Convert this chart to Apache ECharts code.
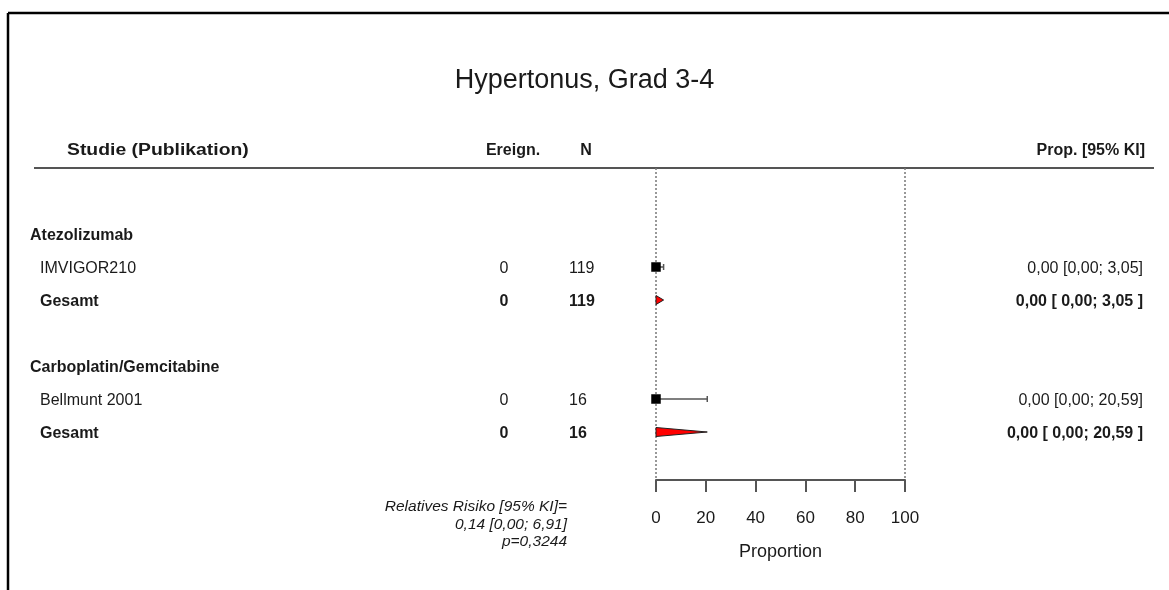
<!DOCTYPE html>
<html>
<head>
<meta charset="utf-8">
<script src="https://cdn.jsdelivr.net/npm/echarts@6/dist/echarts.min.js"></script>
<style>
  html, body { margin: 0; padding: 0; background: #fff; }
  #chart { width: 1169px; height: 590px; }
</style>
</head>
<body>
<div id="chart"></div>
<script>
// Subgroups and their single studies
const groups = ['Atezolizumab', 'Carboplatin/Gemcitabine'];
const studies = ['IMVIGOR210', 'Bellmunt 2001'];
const studyEvents = [0, 0];
const studyN = [119, 16];
const studyEst = [0.00, 0.00];
const studyLower = [0.00, 0.00];
const studyUpper = [3.05, 20.59];
const studyCI = ['0,00 [0,00; 3,05]', '0,00 [0,00; 20,59]'];

// Pooled estimate per subgroup
const pooledLabel = 'Gesamt';
const pooledEvents = [0, 0];
const pooledN = [119, 16];
const pooledEst = [0.00, 0.00];
const pooledLower = [0.00, 0.00];
const pooledUpper = [3.05, 20.59];
const pooledCI = ['0,00 [ 0,00; 3,05 ]', '0,00 [ 0,00; 20,59 ]'];

// Axis ticks
const xTicks = [0, 20, 40, 60, 80, 100];

// Test for subgroup differences
const testLines = ['Relatives Risiko [95% KI]=', '0,14 [0,00; 6,91]', 'p=0,3244'];

const FONT = "'Liberation Sans', Arial, Helvetica, sans-serif";
const TXT = '#1a1a1a';
const ROW_PX = 33;
const GRID_TOP = 168, GRID_H = 312;
const TEXT_DY = 2; // glyph centring offset

// row index (in row units from the header rule) of each line of the table
const groupRow = g => 2 + 4 * g;

const tableRows = [];
groups.forEach((g, i) => {
  const r = groupRow(i);
  tableRows.push({ row: r, cells: [{ text: g, x: 30, align: 'left', bold: true }] });
  tableRows.push({ row: r + 1, cells: [
    { text: studies[i], x: 40, align: 'left' },
    { text: String(studyEvents[i]), x: 504, align: 'center' },
    { text: String(studyN[i]), x: 569, align: 'left' },
    { text: studyCI[i], x: 1143, align: 'right' }
  ]});
  tableRows.push({ row: r + 2, cells: [
    { text: pooledLabel, x: 40, align: 'left', bold: true },
    { text: String(pooledEvents[i]), x: 504, align: 'center', bold: true },
    { text: String(pooledN[i]), x: 569, align: 'left', bold: true },
    { text: pooledCI[i], x: 1143, align: 'right', bold: true }
  ]});
});

const studyData = studies.map((s, i) => [studyEst[i], groupRow(i) + 1, studyLower[i], studyUpper[i]]);
const pooledData = groups.map((g, i) => [pooledEst[i], groupRow(i) + 2, pooledLower[i], pooledUpper[i]]);

const chart = echarts.init(document.getElementById('chart'), null, { renderer: 'canvas' });

chart.setOption({
  backgroundColor: '#ffffff',
  animation: false,
  title: {
    text: 'Hypertonus, Grad 3-4',
    left: 'center',
    top: 62,
    textStyle: { fontFamily: FONT, fontSize: 27, fontWeight: 'normal', color: TXT }
  },
  grid: {
    left: 656, top: GRID_TOP, width: 249, height: GRID_H,
    containLabel: false, outerBoundsMode: 'none'
  },
  xAxis: {
    type: 'value', min: 0, max: 100, interval: 20,
    position: 'bottom',
    name: 'Proportion', nameLocation: 'middle', nameGap: 63,
    nameTextStyle: { fontFamily: FONT, fontSize: 18, color: TXT },
    axisLine: { show: true, onZero: false, lineStyle: { color: '#555', width: 2 } },
    axisTick: { show: true, length: 12, inside: false, lineStyle: { color: '#555', width: 2 } },
    axisLabel: {
      fontFamily: FONT, fontSize: 17, color: TXT, margin: 30,
      formatter: v => (xTicks.indexOf(v) >= 0 ? String(v) : '')
    },
    splitLine: { show: false }
  },
  yAxis: {
    type: 'value', min: 0, max: GRID_H / ROW_PX, inverse: true, show: false
  },
  graphic: [
    // frame
    { type: 'line', shape: { x1: 8, y1: 13, x2: 1169, y2: 13 }, style: { stroke: '#000', lineWidth: 2.5 } },
    { type: 'line', shape: { x1: 8, y1: 13, x2: 8, y2: 590 }, style: { stroke: '#000', lineWidth: 2.5 } },
    // header rule
    { type: 'line', shape: { x1: 34, y1: 168, x2: 1154, y2: 168 }, style: { stroke: '#555', lineWidth: 2 } },
    // column headers
    { type: 'text', x: 67, y: 151, scaleX: 1.21, style: { text: 'Studie (Publikation)', font: `bold 16px ${FONT}`, fill: TXT, align: 'left', verticalAlign: 'middle' } },
    { type: 'text', x: 513, y: 151, style: { text: 'Ereign.', font: `bold 16px ${FONT}`, fill: TXT, align: 'center', verticalAlign: 'middle' } },
    { type: 'text', x: 586, y: 151, style: { text: 'N', font: `bold 16px ${FONT}`, fill: TXT, align: 'center', verticalAlign: 'middle' } },
    { type: 'text', x: 1145, y: 151, style: { text: 'Prop. [95% KI]', font: `bold 16px ${FONT}`, fill: TXT, align: 'right', verticalAlign: 'middle' } },
    // subgroup difference test
    ...testLines.map((t, i) => ({
      type: 'text', x: 567, y: 507 + i * 17.5,
      style: { text: t, font: `italic 15.5px ${FONT}`, fill: TXT, align: 'right', verticalAlign: 'middle' }
    }))
  ],
  series: [
    {
      // table text and the 0 / 100 reference lines
      type: 'custom',
      clip: false,
      silent: true,
      z: 2,
      data: tableRows.map(r => [0, r.row]),
      renderItem: (params, api) => {
        const y = api.coord([0, api.value(1)])[1] + TEXT_DY;
        const row = tableRows[params.dataIndex];
        return {
          type: 'group',
          children: row.cells.map(c => ({
            type: 'text', x: c.x, y: y,
            style: {
              text: c.text,
              font: `${c.bold ? 'bold ' : ''}16px ${FONT}`,
              fill: TXT, align: c.align, verticalAlign: 'middle'
            }
          }))
        };
      },
      markLine: {
        silent: true,
        symbol: 'none',
        label: { show: false },
        lineStyle: { color: '#777', type: [2, 2], width: 1.5 },
        data: [{ xAxis: 0 }, { xAxis: 100 }]
      }
    },
    {
      // single studies: CI whisker + square
      type: 'custom',
      clip: false,
      silent: true,
      z: 6,
      data: studyData,
      renderItem: (params, api) => {
        const row = api.value(1);
        const c = api.coord([api.value(0), row]);
        const lo = api.coord([api.value(2), row]);
        const hi = api.coord([api.value(3), row]);
        const s = 9, cap = 3;
        return {
          type: 'group',
          children: [
            { type: 'line', shape: { x1: lo[0], y1: lo[1], x2: hi[0], y2: hi[1] }, style: { stroke: '#555', lineWidth: 1.5 } },
            { type: 'line', shape: { x1: hi[0], y1: hi[1] - cap, x2: hi[0], y2: hi[1] + cap }, style: { stroke: '#555', lineWidth: 1.5 } },
            { type: 'rect', z2: 10, shape: { x: c[0] - s / 2, y: c[1] - s / 2, width: s, height: s }, style: { fill: '#000', stroke: '#000', lineWidth: 0.5 } }
          ]
        };
      }
    },
    {
      // pooled estimates: diamond
      type: 'custom',
      clip: false,
      silent: true,
      z: 6,
      data: pooledData,
      renderItem: (params, api) => {
        const row = api.value(1);
        const c = api.coord([api.value(0), row]);
        const lo = api.coord([api.value(2), row]);
        const hi = api.coord([api.value(3), row]);
        const h = 4.5;
        return {
          type: 'polygon',
          shape: { points: [[lo[0], lo[1]], [c[0], c[1] - h], [hi[0], hi[1]], [c[0], c[1] + h]] },
          style: { fill: '#ff0000', stroke: '#222', lineWidth: 1 }
        };
      }
    }
  ]
});
</script>
</body>
</html>
